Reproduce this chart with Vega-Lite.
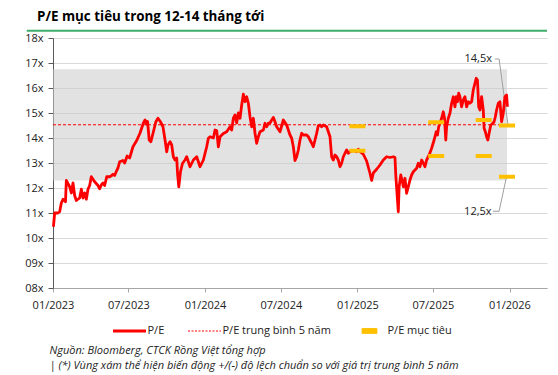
{
  "$schema": "https://vega.github.io/schema/vega-lite/v6.json",
  "width": 494,
  "height": 250,
  "autosize": "none",
  "padding": {"left": 53, "top": 38, "right": 11, "bottom": 87},
  "background": "white",
  "config": {
    "font": "Open Sans",
    "view": {"stroke": null}
  },
  "title": {
    "text": "P/E mục tiêu trong 12-14 tháng tới",
    "anchor": "start",
    "frame": "group",
    "dx": -16,
    "offset": 6.5,
    "fontSize": 13.4,
    "fontWeight": "bold",
    "color": "#000000"
  },
  "encoding": {
    "x": {
      "field": "d",
      "type": "temporal",
      "scale": {"type": "utc", "domain": [{"year": 2023, "month": 1, "date": 1, "utc": true}, {"year": 2026, "month": 4, "date": 1, "utc": true}]},
      "axis": {
        "values": [
          {"year": 2023, "month": 1, "date": 1, "utc": true},
          {"year": 2023, "month": 7, "date": 1, "utc": true},
          {"year": 2024, "month": 1, "date": 1, "utc": true},
          {"year": 2024, "month": 7, "date": 1, "utc": true},
          {"year": 2025, "month": 1, "date": 1, "utc": true},
          {"year": 2025, "month": 7, "date": 1, "utc": true},
          {"year": 2026, "month": 1, "date": 1, "utc": true}
        ],
        "format": "%m/%Y",
        "grid": false,
        "domainColor": "#a6a6a6",
        "tickColor": "#a6a6a6",
        "tickSize": 4,
        "labelFontSize": 11,
        "labelColor": "#222222",
        "labelPadding": 7,
        "labelFlush": false,
        "labelOverlap": false,
        "title": ["Nguồn: Bloomberg, CTCK Rồng Việt tổng hợp", "| (*) Vùng xám thể hiện biến động +/(-) độ lệch chuẩn so với giá trị trung bình 5 năm"],
        "titleFontStyle": "italic",
        "titleFontWeight": "normal",
        "titleFontSize": 11,
        "titleColor": "#222222",
        "titleAnchor": "start",
        "titleAlign": "left",
        "titleX": -4,
        "titleY": 56,
        "titleBaseline": "top",
        "titleLineHeight": 15
      }
    },
    "y": {
      "field": "v",
      "type": "quantitative",
      "scale": {"domain": [8, 18], "nice": false, "zero": false},
      "axis": {
        "values": [8, 9, 10, 11, 12, 13, 14, 15, 16, 17, 18],
        "labelExpr": "(datum.value < 10 ? '0' : '') + datum.value + 'x'",
        "labelOverlap": false,
        "grid": true,
        "gridColor": "#d9d9d9",
        "domainColor": "#595959",
        "tickColor": "#595959",
        "tickSize": 5,
        "labelFontSize": 11,
        "labelColor": "#222222",
        "labelPadding": 5,
        "title": null
      }
    }
  },
  "layer": [
    {
      "data": {"values": [{"d": "2023-01-01", "d2": "2025-12-26", "v": 12.3, "v2": 16.75}]},
      "mark": {"type": "rect", "color": "#cacaca", "opacity": 0.55},
      "encoding": {
        "x2": {"field": "d2"},
        "y2": {"field": "v2"}
      }
    },
    {
      "data": {"values": [{"d": "2022-10-30", "d2": "2026-04-01", "v": 18.29}]},
      "mark": {"type": "rule", "color": "#3DAE6A", "strokeWidth": 2},
      "encoding": {
        "x2": {"field": "d2"}
      }
    },
    {
      "data": {"values": [{"s": "P/E trung bình 5 năm", "d": "2023-01-01", "d2": "2025-12-26", "v": 14.53}]},
      "mark": {"type": "rule", "strokeWidth": 1, "strokeDash": [3, 2]},
      "encoding": {
        "x2": {"field": "d2"},
        "color": {
          "field": "s",
          "type": "nominal",
          "scale": {"domain": ["P/E", "P/E trung bình 5 năm", "P/E mục tiêu"], "range": ["#FF0000", "#FF0000", "#FFC000"]},
          "legend": {
            "orient": "none",
            "legendX": 59.5,
            "legendY": 276,
            "direction": "horizontal",
            "title": null,
            "padding": 0,
            "symbolType": "stroke",
            "symbolSize": 1089,
            "labelFontSize": 11,
            "labelColor": "#222222",
            "labelOffset": 1,
            "columnPadding": 21,
            "gridAlign": "none",
            "encode": {
              "symbols": {
                "update": {
                  "shape": {"signal": "(datum.value === 'P/E mục tiêu' ? 'M-0.45,-0.15H0.45V0.15H-0.45Z' : 'stroke')"},
                  "size": {"value": 1089},
                  "stroke": {"signal": "(datum.value === 'P/E mục tiêu' ? '#333333' : '#FF0000')"},
                  "fill": {"signal": "(datum.value === 'P/E mục tiêu' ? '#FFC000' : 'transparent')"},
                  "strokeWidth": {"signal": "(datum.value === 'P/E' ? 3 : 1)"},
                  "strokeDash": {"signal": "(datum.value === 'P/E trung bình 5 năm' ? [2, 1.5] : [1, 0])"},
                  "opacity": {"value": 1}
                }
              }
            }
          }
        }
      }
    },
    {
      "data": {"values": [
        {"g": 1, "d": "2025-11-27", "v": 17.16},
        {"g": 1, "d": "2025-12-07", "v": 17.16},
        {"g": 1, "d": "2025-12-28", "v": 14.56},
        {"g": 2, "d": "2025-11-22", "v": 11.07},
        {"g": 2, "d": "2025-12-07", "v": 11.07},
        {"g": 2, "d": "2025-12-24", "v": 12.39}
      ]},
      "mark": {"type": "line", "color": "#a0a0a0", "strokeWidth": 1},
      "encoding": {
        "detail": {"field": "g", "type": "nominal"}
      }
    },
    {
      "data": {"values": [
        {"d": "2023-01-02", "v": 10.45}, {"d": "2023-01-05", "v": 11.0}, {"d": "2023-01-13", "v": 11.0}, {"d": "2023-01-17", "v": 11.05},
        {"d": "2023-01-21", "v": 11.4}, {"d": "2023-01-25", "v": 11.55}, {"d": "2023-01-31", "v": 11.45}, {"d": "2023-02-02", "v": 12.3},
        {"d": "2023-02-10", "v": 12.05}, {"d": "2023-02-14", "v": 11.8}, {"d": "2023-02-18", "v": 12.2}, {"d": "2023-02-22", "v": 11.7},
        {"d": "2023-02-26", "v": 11.5}, {"d": "2023-03-06", "v": 11.6}, {"d": "2023-03-10", "v": 11.95}, {"d": "2023-03-14", "v": 11.6},
        {"d": "2023-03-18", "v": 11.8}, {"d": "2023-03-22", "v": 11.55}, {"d": "2023-03-26", "v": 11.95}, {"d": "2023-03-30", "v": 12.1},
        {"d": "2023-04-03", "v": 12.45}, {"d": "2023-04-11", "v": 12.25}, {"d": "2023-04-19", "v": 12.1}, {"d": "2023-04-23", "v": 11.97},
        {"d": "2023-04-28", "v": 12.15}, {"d": "2023-05-01", "v": 12.2}, {"d": "2023-05-05", "v": 12.1}, {"d": "2023-05-10", "v": 12.45},
        {"d": "2023-05-13", "v": 12.45}, {"d": "2023-05-17", "v": 12.45}, {"d": "2023-05-22", "v": 12.5}, {"d": "2023-05-25", "v": 12.55},
        {"d": "2023-05-29", "v": 12.5}, {"d": "2023-06-03", "v": 12.7}, {"d": "2023-06-06", "v": 12.8}, {"d": "2023-06-10", "v": 13.05},
        {"d": "2023-06-18", "v": 13.1}, {"d": "2023-06-22", "v": 13.0}, {"d": "2023-06-28", "v": 13.28}, {"d": "2023-07-04", "v": 13.2},
        {"d": "2023-07-12", "v": 13.65}, {"d": "2023-07-21", "v": 13.9}, {"d": "2023-07-29", "v": 14.2}, {"d": "2023-08-06", "v": 14.6},
        {"d": "2023-08-10", "v": 14.72}, {"d": "2023-08-14", "v": 14.55}, {"d": "2023-08-16", "v": 14.66}, {"d": "2023-08-20", "v": 13.92},
        {"d": "2023-08-24", "v": 13.85}, {"d": "2023-08-30", "v": 14.25}, {"d": "2023-09-05", "v": 14.65}, {"d": "2023-09-10", "v": 14.79},
        {"d": "2023-09-16", "v": 14.65}, {"d": "2023-09-22", "v": 14.45}, {"d": "2023-09-27", "v": 13.92}, {"d": "2023-10-01", "v": 13.45},
        {"d": "2023-10-04", "v": 13.72}, {"d": "2023-10-09", "v": 13.85}, {"d": "2023-10-13", "v": 13.72}, {"d": "2023-10-17", "v": 13.25},
        {"d": "2023-10-21", "v": 13.12}, {"d": "2023-10-25", "v": 13.2}, {"d": "2023-10-27", "v": 12.59}, {"d": "2023-10-30", "v": 12.05},
        {"d": "2023-11-03", "v": 12.65}, {"d": "2023-11-08", "v": 12.99}, {"d": "2023-11-14", "v": 13.12}, {"d": "2023-11-18", "v": 13.25},
        {"d": "2023-11-22", "v": 13.05}, {"d": "2023-11-26", "v": 12.85}, {"d": "2023-12-04", "v": 13.12}, {"d": "2023-12-12", "v": 13.25},
        {"d": "2023-12-20", "v": 12.85}, {"d": "2023-12-28", "v": 13.12}, {"d": "2024-01-05", "v": 13.65}, {"d": "2024-01-09", "v": 13.99},
        {"d": "2024-01-13", "v": 14.05}, {"d": "2024-01-21", "v": 14.0}, {"d": "2024-01-25", "v": 14.32}, {"d": "2024-01-29", "v": 14.3},
        {"d": "2024-02-02", "v": 13.65}, {"d": "2024-02-06", "v": 14.05}, {"d": "2024-02-14", "v": 14.18}, {"d": "2024-02-22", "v": 14.25},
        {"d": "2024-03-01", "v": 14.45}, {"d": "2024-03-05", "v": 14.32}, {"d": "2024-03-09", "v": 14.79}, {"d": "2024-03-13", "v": 14.92},
        {"d": "2024-03-17", "v": 14.6}, {"d": "2024-03-21", "v": 15.0}, {"d": "2024-03-25", "v": 14.79}, {"d": "2024-03-29", "v": 15.32},
        {"d": "2024-04-02", "v": 15.75}, {"d": "2024-04-06", "v": 15.45}, {"d": "2024-04-10", "v": 15.65}, {"d": "2024-04-14", "v": 15.39},
        {"d": "2024-04-18", "v": 14.85}, {"d": "2024-04-22", "v": 14.45}, {"d": "2024-04-26", "v": 14.79}, {"d": "2024-04-30", "v": 14.19},
        {"d": "2024-05-04", "v": 13.79}, {"d": "2024-05-08", "v": 14.05}, {"d": "2024-05-12", "v": 14.25}, {"d": "2024-05-20", "v": 14.32},
        {"d": "2024-05-24", "v": 14.59}, {"d": "2024-05-28", "v": 14.45}, {"d": "2024-06-01", "v": 14.59}, {"d": "2024-06-05", "v": 14.6},
        {"d": "2024-06-09", "v": 14.72}, {"d": "2024-06-13", "v": 14.82}, {"d": "2024-06-17", "v": 14.65}, {"d": "2024-06-21", "v": 14.45},
        {"d": "2024-06-29", "v": 14.25}, {"d": "2024-07-07", "v": 14.72}, {"d": "2024-07-15", "v": 14.52}, {"d": "2024-07-23", "v": 14.12},
        {"d": "2024-07-27", "v": 13.99}, {"d": "2024-07-31", "v": 13.65}, {"d": "2024-08-04", "v": 13.1}, {"d": "2024-08-08", "v": 13.25},
        {"d": "2024-08-12", "v": 13.52}, {"d": "2024-08-16", "v": 13.92}, {"d": "2024-08-20", "v": 14.19}, {"d": "2024-08-24", "v": 14.12},
        {"d": "2024-09-01", "v": 14.12}, {"d": "2024-09-05", "v": 14.05}, {"d": "2024-09-09", "v": 13.92}, {"d": "2024-09-13", "v": 13.79},
        {"d": "2024-09-17", "v": 13.65}, {"d": "2024-09-21", "v": 13.92}, {"d": "2024-09-25", "v": 14.19}, {"d": "2024-09-29", "v": 14.5},
        {"d": "2024-10-03", "v": 14.52}, {"d": "2024-10-07", "v": 14.45}, {"d": "2024-10-11", "v": 14.52}, {"d": "2024-10-19", "v": 14.45},
        {"d": "2024-10-23", "v": 14.25}, {"d": "2024-10-27", "v": 14.05}, {"d": "2024-10-31", "v": 13.25}, {"d": "2024-11-04", "v": 13.12},
        {"d": "2024-11-08", "v": 13.32}, {"d": "2024-11-12", "v": 13.25}, {"d": "2024-11-16", "v": 13.12}, {"d": "2024-11-20", "v": 12.85},
        {"d": "2024-11-24", "v": 12.99}, {"d": "2024-11-28", "v": 13.25}, {"d": "2024-12-02", "v": 13.39}, {"d": "2024-12-06", "v": 13.52},
        {"d": "2024-12-10", "v": 13.39}, {"d": "2024-12-14", "v": 13.45}, {"d": "2024-12-22", "v": 13.5}, {"d": "2024-12-30", "v": 13.45},
        {"d": "2025-01-03", "v": 13.55}, {"d": "2025-01-07", "v": 13.45}, {"d": "2025-01-15", "v": 13.35}, {"d": "2025-01-23", "v": 13.08},
        {"d": "2025-01-31", "v": 12.59}, {"d": "2025-02-04", "v": 12.3}, {"d": "2025-02-08", "v": 12.6}, {"d": "2025-02-16", "v": 12.75},
        {"d": "2025-02-24", "v": 12.92}, {"d": "2025-03-04", "v": 13.12}, {"d": "2025-03-12", "v": 13.25}, {"d": "2025-03-20", "v": 13.22},
        {"d": "2025-03-28", "v": 13.25}, {"d": "2025-04-01", "v": 13.22}, {"d": "2025-04-03", "v": 12.5}, {"d": "2025-04-07", "v": 11.52},
        {"d": "2025-04-09", "v": 11.05}, {"d": "2025-04-11", "v": 12.05}, {"d": "2025-04-15", "v": 12.52}, {"d": "2025-04-18", "v": 12.32},
        {"d": "2025-04-21", "v": 12.05}, {"d": "2025-04-25", "v": 12.39}, {"d": "2025-04-29", "v": 11.79}, {"d": "2025-05-03", "v": 12.05},
        {"d": "2025-05-07", "v": 12.32}, {"d": "2025-05-11", "v": 12.52}, {"d": "2025-05-15", "v": 12.65}, {"d": "2025-05-23", "v": 12.79},
        {"d": "2025-05-27", "v": 12.99}, {"d": "2025-05-31", "v": 12.85}, {"d": "2025-06-04", "v": 13.12}, {"d": "2025-06-08", "v": 12.99},
        {"d": "2025-06-12", "v": 12.85}, {"d": "2025-06-16", "v": 13.12}, {"d": "2025-06-22", "v": 13.32}, {"d": "2025-06-28", "v": 13.59},
        {"d": "2025-07-04", "v": 13.92}, {"d": "2025-07-09", "v": 14.25}, {"d": "2025-07-12", "v": 14.12}, {"d": "2025-07-15", "v": 14.45},
        {"d": "2025-07-18", "v": 14.59}, {"d": "2025-07-22", "v": 14.79}, {"d": "2025-07-26", "v": 15.05}, {"d": "2025-07-29", "v": 14.79},
        {"d": "2025-08-01", "v": 13.92}, {"d": "2025-08-03", "v": 14.45}, {"d": "2025-08-07", "v": 14.79}, {"d": "2025-08-11", "v": 14.99},
        {"d": "2025-08-15", "v": 15.39}, {"d": "2025-08-19", "v": 15.65}, {"d": "2025-08-23", "v": 15.25}, {"d": "2025-08-26", "v": 15.65},
        {"d": "2025-08-29", "v": 15.45}, {"d": "2025-09-01", "v": 15.79}, {"d": "2025-09-04", "v": 15.65}, {"d": "2025-09-08", "v": 15.25},
        {"d": "2025-09-12", "v": 15.52}, {"d": "2025-09-16", "v": 15.65}, {"d": "2025-09-20", "v": 15.25}, {"d": "2025-09-24", "v": 15.45},
        {"d": "2025-09-28", "v": 15.39}, {"d": "2025-10-02", "v": 15.45}, {"d": "2025-10-06", "v": 15.92}, {"d": "2025-10-10", "v": 16.19},
        {"d": "2025-10-13", "v": 16.39}, {"d": "2025-10-16", "v": 16.32}, {"d": "2025-10-19", "v": 15.25}, {"d": "2025-10-22", "v": 15.12},
        {"d": "2025-10-26", "v": 15.65}, {"d": "2025-10-30", "v": 15.12}, {"d": "2025-11-01", "v": 14.39}, {"d": "2025-11-04", "v": 14.25},
        {"d": "2025-11-07", "v": 14.05}, {"d": "2025-11-10", "v": 13.92}, {"d": "2025-11-13", "v": 14.19}, {"d": "2025-11-17", "v": 14.52},
        {"d": "2025-11-22", "v": 14.59}, {"d": "2025-11-25", "v": 14.65}, {"d": "2025-11-28", "v": 14.85}, {"d": "2025-12-01", "v": 15.12},
        {"d": "2025-12-05", "v": 15.39}, {"d": "2025-12-09", "v": 15.45}, {"d": "2025-12-13", "v": 14.65}, {"d": "2025-12-17", "v": 14.99},
        {"d": "2025-12-21", "v": 15.65}, {"d": "2025-12-25", "v": 15.72}, {"d": "2025-12-27", "v": 15.25}
      ]},
      "mark": {"type": "line", "strokeWidth": 2.8, "strokeJoin": "round"},
      "encoding": {
        "color": {"datum": "P/E", "type": "nominal", "legend": null}
      }
    },
    {
      "data": {"values": [
        {"s": "P/E mục tiêu", "d": "2025-01-01", "v": 14.47},
        {"s": "P/E mục tiêu", "d": "2025-01-01", "v": 13.49},
        {"s": "P/E mục tiêu", "d": "2025-07-09", "v": 14.63},
        {"s": "P/E mục tiêu", "d": "2025-07-09", "v": 13.28},
        {"s": "P/E mục tiêu", "d": "2025-10-31", "v": 14.72},
        {"s": "P/E mục tiêu", "d": "2025-10-31", "v": 13.28},
        {"s": "P/E mục tiêu", "d": "2025-12-26", "v": 14.5},
        {"s": "P/E mục tiêu", "d": "2025-12-26", "v": 12.45}
      ]},
      "mark": {"type": "tick", "orient": "horizontal", "size": 16, "thickness": 4, "opacity": 1},
      "encoding": {
        "color": {"field": "s", "type": "nominal", "legend": null}
      }
    },
    {
      "data": {"values": [
        {"d": "2025-11-20", "v": 17.15, "t": "14,5x"},
        {"d": "2025-11-19", "v": 11.05, "t": "12,5x"}
      ]},
      "mark": {"type": "text", "align": "right", "baseline": "middle", "fontSize": 11, "color": "#222222"},
      "encoding": {
        "text": {"field": "t", "type": "nominal"}
      }
    }
  ]
}
